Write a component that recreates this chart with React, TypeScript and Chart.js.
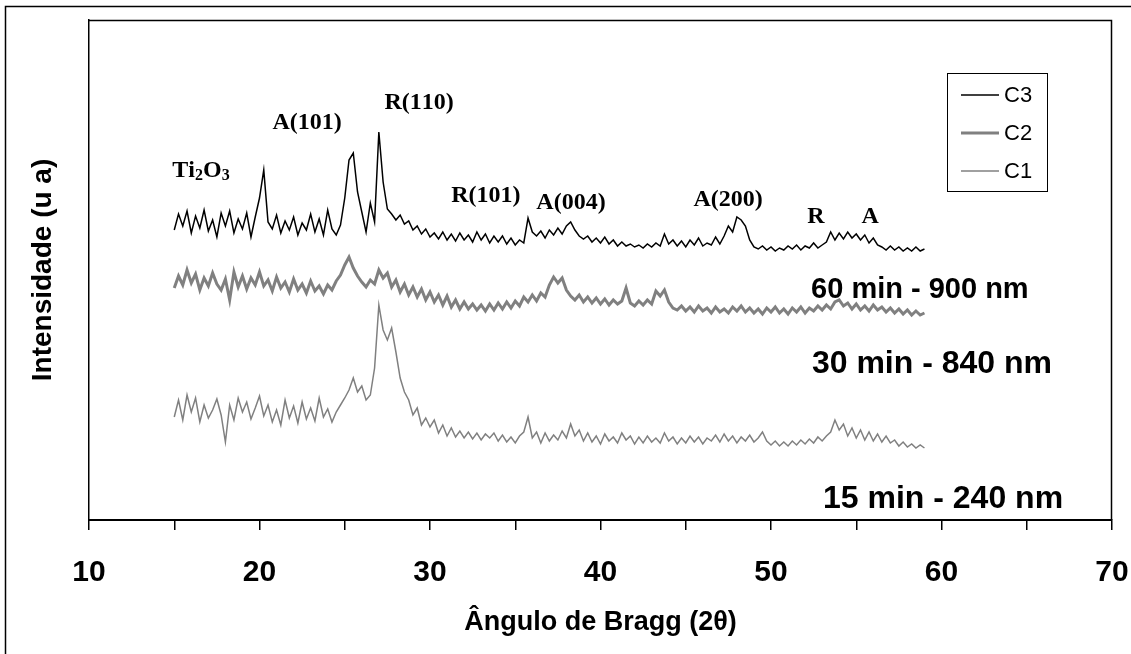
import React, { useEffect, useRef } from 'react';
import { Chart, registerables } from 'chart.js';

Chart.register(...registerables);

// Sampling grid of the diffractograms (2θ, degrees)
const ANGLE_START = 15;
const ANGLE_STEP = 0.25;

// Series values (arbitrary intensity units), one value per grid step, 15° → 59°
const C3_VALUES = [
  290, 306, 294, 309, 287, 304, 292, 310, 289, 300, 283, 307, 294, 309, 287, 301, 291, 307, 283, 303,
  322, 350, 298, 291, 305, 287, 299, 290, 303, 285, 297, 290, 306, 288, 301, 285, 310, 291, 285, 295,
  322, 360, 367, 328, 308, 288, 317, 298, 388, 338, 311, 306, 300, 305, 296, 299, 290, 294, 286, 291,
  283, 287, 281, 288, 280, 286, 279, 287, 280, 285, 278, 288, 280, 286, 277, 284, 278, 284, 276, 282,
  275, 280, 277, 302, 288, 284, 289, 282, 290, 285, 292, 286, 294, 298, 290, 284, 281, 284, 278, 282,
  277, 283, 276, 280, 274, 278, 274, 276, 273, 275, 272, 276, 273, 277, 274, 286, 276, 280, 274, 279,
  273, 280, 275, 282, 274, 277, 275, 283, 276, 284, 294, 288, 303, 300, 294, 280, 273, 271, 274, 270,
  273, 269, 272, 270, 274, 271, 275, 270, 274, 272, 277, 272, 275, 278, 288, 280, 287, 281, 288, 282,
  286, 280, 285, 277, 282, 275, 273, 270, 274, 270, 273, 269, 272, 269, 273, 269,
  271,
];

const C2_VALUES = [
  232, 244, 235, 250, 237, 246, 230, 242, 234, 247, 236, 230, 241, 220, 248, 233, 244, 231, 242, 235,
  248, 234, 240, 229, 243, 232, 238, 228, 241, 230, 236, 227, 239, 229, 234, 226, 235, 230, 239, 245,
  255, 263, 252, 244, 238, 233, 240, 236, 250, 242, 247, 233, 240, 228, 236, 225, 233, 223, 231, 220,
  228, 218, 225, 215, 224, 213, 220, 211, 218, 211, 216, 210, 215, 209, 216, 210, 217, 211, 218, 212,
  219, 214, 223, 218, 225, 219, 227, 223, 235, 243, 237, 242, 230, 224, 220, 225, 218, 223, 217, 222,
  216, 221, 215, 220, 216, 219, 232, 217, 214, 219, 215, 220, 216, 229, 224, 230, 218, 212, 210, 214,
  209, 213, 208, 214, 209, 212, 207, 213, 208, 211, 207, 213, 209, 214, 208, 212, 207, 211, 206, 212,
  208, 213, 207, 211, 206, 212, 208, 213, 207, 212, 209, 214, 210, 215, 211, 218, 220, 214, 217, 211,
  216, 210, 214, 209, 215, 210, 213, 208, 212, 207, 211, 206, 210, 205, 209, 205,
  207,
];

const C1_VALUES = [
  103, 120, 100, 125, 108, 122, 98, 115, 102, 110, 121, 105, 78, 115, 100, 122, 108, 118, 101, 112,
  124, 104, 115, 98, 110, 95, 120, 102, 114, 97, 118, 101, 112, 99, 122, 103, 111, 98, 108, 115,
  122, 130, 142, 128, 134, 120, 125, 152, 215, 190, 180, 192, 168, 142, 128, 120, 105, 112, 95, 102,
  93, 100, 87, 95, 84, 92, 83, 89, 82, 88, 81, 87, 80, 86, 82, 87, 79, 85, 78, 83,
  77, 84, 88, 103, 82, 88, 77, 87, 79, 85, 80, 89, 82, 96, 84, 90, 79, 87, 78, 84,
  76, 86, 79, 83, 77, 87, 80, 84, 76, 83, 77, 84, 78, 82, 77, 87, 79, 83, 76, 82,
  77, 84, 78, 83, 76, 82, 79, 85, 78, 86, 79, 84, 77, 83, 79, 85, 78, 82, 88, 79,
  75, 79, 74, 78, 74, 79, 75, 80, 76, 81, 77, 83, 79, 84, 88, 100, 90, 96, 84, 92,
  82, 90, 80, 88, 79, 86, 78, 84, 77, 80, 74, 78, 73, 76, 72, 75,
  72,
];

const SERIES_NAMES = ['C3', 'C2', 'C1'];
const X_MIN = 10;
const X_MAX = 70;
const X_LABEL_STEP = 10;
const Y_MIN = 0;
const Y_MAX = 500;

const PEAK_NAMES = ['Ti2O3', 'A(101)', 'R(110)', 'R(101)', 'A(004)', 'A(200)', 'R', 'A'];
const SAMPLE_NAMES = ['60 min - 900 nm', '30 min - 840 nm', '15 min - 240 nm'];

// ---------- presentation ----------
const SANS = '"Liberation Sans", Arial, Helvetica, sans-serif';
const SERIF = '"Liberation Serif", "Times New Roman", Times, serif';

// anchor of each peak label in data coordinates (2θ, intensity) — text centre
const PEAK_ANCHORS = [
  [16.57, 349],
  [22.79, 397],
  [29.36, 417],
  [33.28, 324],
  [38.27, 317],
  [47.48, 320],
  [52.64, 303],
  [55.81, 303],
];
// left edge / vertical centre of each sample caption in data coordinates
const SAMPLE_ANCHORS = [
  [52.35, 230],
  [52.4, 156],
  [53.05, 21],
];
const SAMPLE_FONT_SIZES = [29, 32, 32];

const SERIES_STYLE = [
  { color: '#000000', width: 1.5 },
  { color: '#808080', width: 3 },
  { color: '#808080', width: 1.5 },
];

function toPoints(values: number[]) {
  return values.map((v, i) => ({ x: ANGLE_START + i * ANGLE_STEP, y: v }));
}

function drawRichLabel(ctx: CanvasRenderingContext2D, text: string, cx: number, cy: number) {
  const size = 24;
  const main = `bold ${size}px ${SERIF}`;
  const sub = `bold ${Math.round(size * 0.66)}px ${SERIF}`;
  const parts: { t: string; sub: boolean }[] = [];
  for (const ch of text) {
    const isDigit = /[0-9]/.test(ch);
    const isSub = isDigit && text.startsWith('Ti');
    parts.push({ t: ch, sub: isSub });
  }
  let total = 0;
  for (const p of parts) {
    ctx.font = p.sub ? sub : main;
    total += ctx.measureText(p.t).width;
  }
  let x = cx - total / 2;
  ctx.textBaseline = 'middle';
  ctx.textAlign = 'left';
  ctx.fillStyle = '#000';
  for (const p of parts) {
    ctx.font = p.sub ? sub : main;
    ctx.fillText(p.t, x, p.sub ? cy + 5 : cy);
    x += ctx.measureText(p.t).width;
  }
}

const decorPlugin = {
  id: 'decor',
  beforeDraw(chart: any) {
    const ctx = chart.ctx as CanvasRenderingContext2D;
    ctx.save();
    ctx.fillStyle = '#fff';
    ctx.fillRect(0, 0, chart.width, chart.height);
    // outer figure frame
    ctx.strokeStyle = '#000';
    ctx.lineWidth = 1.5;
    ctx.beginPath();
    ctx.moveTo(5.5, chart.height);
    ctx.lineTo(5.5, 6.5);
    ctx.lineTo(chart.width, 6.5);
    ctx.stroke();
    ctx.restore();
  },
  afterDatasetsDraw(chart: any) {
    const ctx = chart.ctx as CanvasRenderingContext2D;
    const { left, right, top, bottom } = chart.chartArea;
    const xs = chart.scales.x;
    const ys = chart.scales.y;
    ctx.save();
    // plot frame (top + right)
    ctx.strokeStyle = '#000';
    ctx.lineWidth = 1.5;
    ctx.beginPath();
    ctx.moveTo(left, top + 0.5);
    ctx.lineTo(right - 0.5, top + 0.5);
    ctx.lineTo(right - 0.5, bottom);
    ctx.stroke();

    // peak labels
    PEAK_NAMES.forEach((name, i) => {
      const [ax, ay] = PEAK_ANCHORS[i];
      drawRichLabel(ctx, name, xs.getPixelForValue(ax), ys.getPixelForValue(ay));
    });

    // sample captions
    ctx.fillStyle = '#000';
    ctx.textAlign = 'left';
    ctx.textBaseline = 'middle';
    SAMPLE_NAMES.forEach((name, i) => {
      const [ax, ay] = SAMPLE_ANCHORS[i];
      ctx.font = `bold ${SAMPLE_FONT_SIZES[i]}px ${SANS}`;
      ctx.fillText(name, xs.getPixelForValue(ax), ys.getPixelForValue(ay));
    });

    // legend
    const bx = 947.5, by = 73.5, bw = 100, bh = 118;
    ctx.fillStyle = '#fff';
    ctx.fillRect(bx, by, bw, bh);
    ctx.strokeStyle = '#000';
    ctx.lineWidth = 1;
    ctx.strokeRect(bx, by, bw, bh);
    const rows = [95, 133, 171];
    chart.data.datasets.forEach((ds: any, i: number) => {
      const y = rows[i];
      ctx.strokeStyle = ds.borderColor;
      ctx.lineWidth = ds.borderWidth;
      ctx.beginPath();
      ctx.moveTo(961, y);
      ctx.lineTo(999, y);
      ctx.stroke();
      ctx.fillStyle = '#000';
      ctx.font = `22px ${SANS}`;
      ctx.textAlign = 'left';
      ctx.textBaseline = 'middle';
      ctx.fillText(ds.label, 1004, y + 1);
    });
    ctx.restore();
  },
};

export default function App() {
  const ref = useRef<HTMLCanvasElement | null>(null);
  useEffect(() => {
    if (!ref.current) return;
    const seriesValues = [C3_VALUES, C2_VALUES, C1_VALUES];
    const chart = new Chart(ref.current, {
      type: 'line',
      data: {
        datasets: SERIES_NAMES.map((name, i) => ({
          label: name,
          data: toPoints(seriesValues[i]),
          borderColor: SERIES_STYLE[i].color,
          borderWidth: SERIES_STYLE[i].width,
          pointRadius: 0,
          fill: false,
          tension: 0,
        })),
      },
      options: {
        responsive: false,
        animation: false,
        events: [],
        layout: { padding: { left: 0, right: 19, top: 20, bottom: 0 } },
        plugins: {
          legend: { display: false },
          tooltip: { enabled: false },
        },
        scales: {
          x: {
            type: 'linear',
            min: X_MIN,
            max: X_MAX,
            ticks: {
              stepSize: X_LABEL_STEP / 2,
              autoSkip: false,
              maxRotation: 0,
              color: '#000',
              padding: 25,
              font: { family: SANS, size: 30, weight: 'bold' },
              callback: (v: any) => (Number(v) % X_LABEL_STEP === 0 ? String(v) : ''),
            },
            grid: {
              display: true,
              drawOnChartArea: false,
              drawTicks: true,
              tickLength: 10,
              color: '#000',
              lineWidth: 1.5,
            },
            border: { display: true, color: '#000', width: 2 },
            title: {
              display: true,
              text: 'Ângulo de Bragg (2θ)',
              color: '#000',
              font: { family: SANS, size: 27, weight: 'bold' },
              padding: { top: 0, bottom: 15 },
            },
            afterFit: (s: any) => {
              s.height = 134;
              s.paddingLeft = 0;
              s.paddingRight = 0;
            },
          },
          y: {
            type: 'linear',
            min: Y_MIN,
            max: Y_MAX,
            ticks: { display: false },
            grid: { display: false },
            border: { display: true, color: '#000', width: 1.5 },
            title: {
              display: true,
              text: 'Intensidade (u a)',
              color: '#000',
              font: { family: SANS, size: 28, weight: 'bold' },
              padding: { top: 26, bottom: 0 },
            },
            afterFit: (s: any) => {
              s.width = 89;
              s.paddingTop = 0;
              s.paddingBottom = 0;
            },
          },
        },
      } as any,
      plugins: [decorPlugin],
    });
    return () => chart.destroy();
  }, []);

  return (
    <div style={{ position: 'fixed', left: 0, top: 0, width: 1131, height: 654, background: '#fff' }}>
      <canvas ref={ref} width={1131} height={654} style={{ display: 'block', width: 1131, height: 654 }} />
    </div>
  );
}
